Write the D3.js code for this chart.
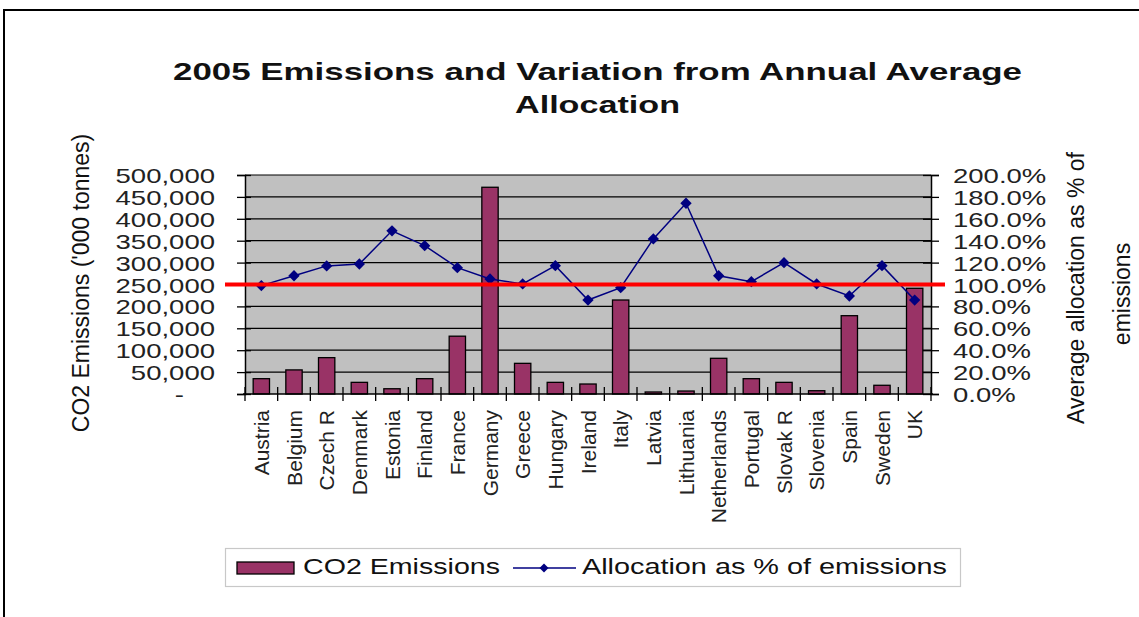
<!DOCTYPE html>
<html>
<head>
<meta charset="utf-8">
<script src="https://cdn.jsdelivr.net/npm/d3@7"></script>
<style>
  html, body { margin: 0; padding: 0; background: #fff; }
  svg { display: block; font-family: "Liberation Sans", Arial, sans-serif; }
</style>
</head>
<body>
<svg id="chart" width="1139" height="617"></svg>
<script>
// ---- data ----
const countries = ["Austria","Belgium","Czech R","Denmark","Estonia","Finland","France","Germany","Greece","Hungary","Ireland","Italy","Latvia","Lithuania","Netherlands","Portugal","Slovak R","Slovenia","Spain","Sweden","UK"];
const emissions = [35000, 55000, 83000, 26600, 12000, 35000, 132000, 472000, 70000, 26600, 22800, 214600, 4600, 6800, 81500, 35000, 26600, 7500, 178800, 19900, 241300];
const allocationPct = [99, 108, 117, 118.7, 149, 135.5, 115.4, 105, 100.5, 117.2, 85.8, 97.1, 141.6, 174.2, 108, 102.6, 119.9, 100.5, 89.5, 117.2, 85.8];
const leftTicks = [0, 50000, 100000, 150000, 200000, 250000, 300000, 350000, 400000, 450000, 500000];
const leftTickLabels = ["-", "50,000", "100,000", "150,000", "200,000", "250,000", "300,000", "350,000", "400,000", "450,000", "500,000"];
const rightTicks = [0, 20, 40, 60, 80, 100, 120, 140, 160, 180, 200];
const rightTickLabels = ["0.0%", "20.0%", "40.0%", "60.0%", "80.0%", "100.0%", "120.0%", "140.0%", "160.0%", "180.0%", "200.0%"];
const referencePct = 100;
const titleLines = ["2005 Emissions and Variation from Annual Average", "Allocation"];
const leftTitle = "CO2 Emissions ('000 tonnes)";
const rightTitleLines = ["Average allocation as % of", "emissions"];
const legendLabels = ["CO2 Emissions", "Allocation as % of emissions"];

// ---- layout ----
const svg = d3.select("#chart");
const L = 245, R = 931, T = 175, B = 394;
const SX = 1.31; // horizontal text stretch
const barColor = "#993366", lineColor = "#000080";

function stretch(sel, factor) {
  sel.each(function () {
    const w = this.getComputedTextLength();
    d3.select(this).attr("textLength", w * factor).attr("lengthAdjust", "spacingAndGlyphs");
  });
}

// frame
svg.append("path").attr("d", "M4,620 L4,10 L1142,10").attr("fill", "none").attr("stroke", "#000").attr("stroke-width", 2);

// scales
const x = d3.scaleBand().domain(countries).range([L, R]).paddingInner(0.5).paddingOuter(0.25);
const yL = d3.scaleLinear().domain([0, 500000]).range([B, T]);
const yR = d3.scaleLinear().domain([0, 200]).range([B, T]);

// plot background
svg.append("rect").attr("x", L).attr("y", T).attr("width", R - L).attr("height", B - T).attr("fill", "#c0c0c0");

// gridlines
svg.append("g").selectAll("line").data(leftTicks.filter(d => d > 0)).join("line")
  .attr("x1", L).attr("x2", R).attr("y1", d => yL(d)).attr("y2", d => yL(d))
  .attr("stroke", "#000").attr("stroke-width", 1.2);

// bars
svg.append("g").selectAll("rect").data(countries).join("rect")
  .attr("x", d => x(d)).attr("width", x.bandwidth())
  .attr("y", (d, i) => yL(emissions[i])).attr("height", (d, i) => B - yL(emissions[i]))
  .attr("fill", barColor).attr("stroke", "#000").attr("stroke-width", 1.3);

// left axis
const gL = svg.append("g").attr("transform", `translate(${L},0)`)
  .call(d3.axisLeft(yL).tickValues(leftTicks).tickSize(8).tickPadding(0).tickFormat((d, i) => leftTickLabels[i]));
gL.select(".domain").attr("stroke-width", 1.5);
gL.selectAll(".tick line").attr("x1", 6).attr("stroke-width", 1.3);
gL.selectAll(".tick text").attr("x", -30).attr("dy", "0.36em").attr("font-size", 21).attr("fill", "#222");
stretch(gL.selectAll(".tick text"), SX);
gL.selectAll(".tick text").filter((d, i) => i === 0).attr("x", -61);

// right axis
const gR = svg.append("g").attr("transform", `translate(${R},0)`)
  .call(d3.axisRight(yR).tickValues(rightTicks).tickSize(8).tickPadding(0).tickFormat((d, i) => rightTickLabels[i]));
gR.select(".domain").attr("stroke-width", 1.5);
gR.selectAll(".tick line").attr("x1", -8).attr("stroke-width", 1.3);
gR.selectAll(".tick text").attr("x", 22).attr("dy", "0.36em").attr("font-size", 21).attr("fill", "#222");
stretch(gR.selectAll(".tick text"), SX);

// bottom axis
const gB = svg.append("g").attr("transform", `translate(0,${B})`)
  .call(d3.axisBottom(x).tickSize(0).tickPadding(0));
gB.select(".domain").attr("stroke-width", 1.5).attr("d", `M${L - 2},0H${R + 2}`);
gB.selectAll(".tick text")
  .attr("transform", "rotate(-90)").attr("text-anchor", "end")
  .attr("x", -16).attr("y", 0).attr("dy", "0.36em").attr("font-size", 21).attr("fill", "#222");
gB.append("g").selectAll("line").data(d3.range(countries.length + 1)).join("line")
  .attr("x1", i => x.range()[0] + i * x.step()).attr("x2", i => x.range()[0] + i * x.step())
  .attr("y1", -7).attr("y2", 7).attr("stroke", "#000").attr("stroke-width", 1.3);

// line series
const cx = d => x(d) + x.bandwidth() / 2;
svg.append("path").datum(countries)
  .attr("d", d3.line().x(cx).y((d, i) => yR(allocationPct[i])))
  .attr("fill", "none").attr("stroke", lineColor).attr("stroke-width", 1.5);
svg.append("g").selectAll("path").data(countries).join("path")
  .attr("d", d3.symbol(d3.symbolSquare, 64))
  .attr("transform", (d, i) => `translate(${cx(d)},${yR(allocationPct[i])}) rotate(45)`)
  .attr("fill", lineColor);

// reference red line
svg.append("line").attr("x1", L - 20).attr("x2", R + 14)
  .attr("y1", yR(referencePct)).attr("y2", yR(referencePct))
  .attr("stroke", "#ff0000").attr("stroke-width", 4);

// title
const titleWidths = [849, 165];
svg.append("g").selectAll("text").data(titleLines).join("text")
  .attr("x", 597.5).attr("y", (d, i) => [80, 113][i])
  .attr("text-anchor", "middle").attr("font-weight", "bold").attr("font-size", 24).attr("fill", "#111")
  .attr("textLength", (d, i) => titleWidths[i]).attr("lengthAdjust", "spacingAndGlyphs")
  .text(d => d);

// axis titles
svg.append("text").attr("transform", "translate(81,283) rotate(-90)")
  .attr("text-anchor", "middle").attr("dominant-baseline", "central")
  .attr("font-size", 23).attr("fill", "#111").text(leftTitle);
svg.append("g").selectAll("text").data(rightTitleLines).join("text")
  .attr("transform", (d, i) => `translate(${[1076, 1122][i]},${[288, 294][i]}) rotate(-90)`)
  .attr("text-anchor", "middle").attr("dominant-baseline", "central")
  .attr("font-size", 23).attr("fill", "#111").text(d => d);

// legend
const lg = svg.append("g");
lg.append("rect").attr("x", 225.5).attr("y", 548.5).attr("width", 735).attr("height", 38)
  .attr("fill", "#fff").attr("stroke", "#c8c8c8").attr("stroke-width", 1.2);
lg.append("rect").attr("x", 237).attr("y", 562).attr("width", 57).attr("height", 12)
  .attr("fill", barColor).attr("stroke", "#000").attr("stroke-width", 1.3);
lg.append("line").attr("x1", 513).attr("x2", 576).attr("y1", 568).attr("y2", 568)
  .attr("stroke", lineColor).attr("stroke-width", 1.5);
lg.append("path").attr("d", d3.symbol(d3.symbolSquare, 40))
  .attr("transform", "translate(544,568) rotate(45)").attr("fill", lineColor);
lg.selectAll("text.lbl").data(legendLabels).join("text").attr("class", "lbl")
  .attr("x", (d, i) => [303, 582][i]).attr("y", 574)
  .attr("font-size", 22).attr("fill", "#111")
  .attr("textLength", (d, i) => [197, 365][i]).attr("lengthAdjust", "spacingAndGlyphs")
  .text(d => d);
</script>
</body>
</html>
